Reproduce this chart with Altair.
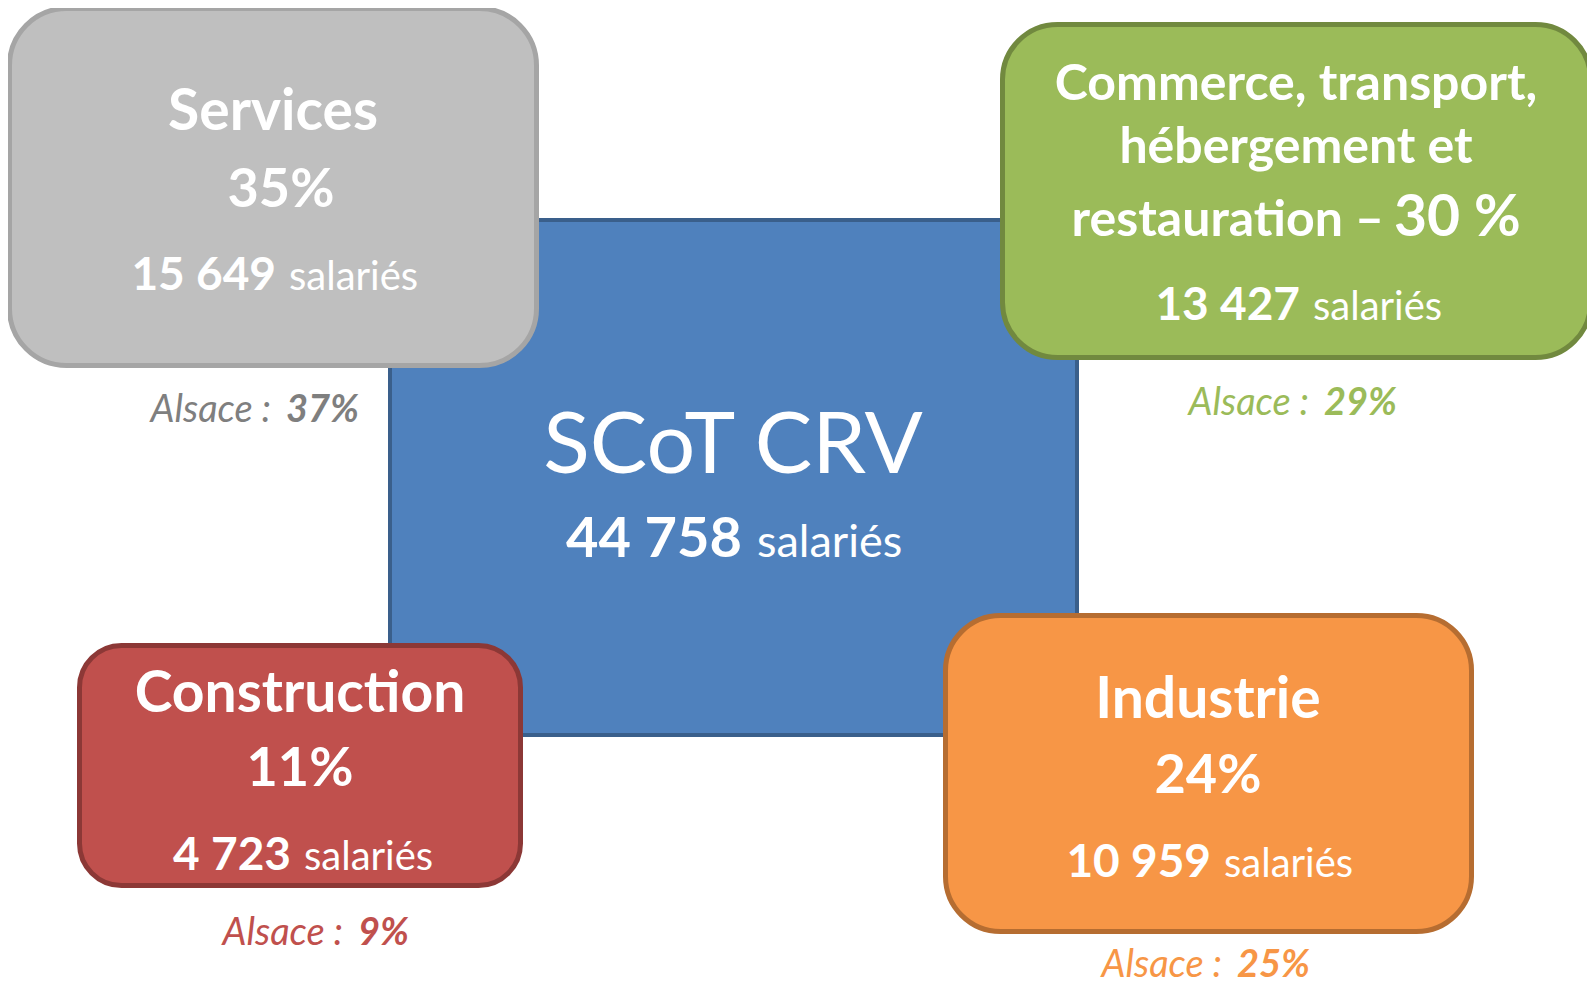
import altair as alt
import pandas as pd

# ---------------- data ----------------
sectors = ["Services", "Commerce, transport, hébergement et restauration", "Construction", "Industrie"]
share_labels = ["35%", "30 %", "11%", "24%"]
employees = ["15 649", "13 427", "4 723", "10 959"]
alsace_share = ["37%", "29%", "9%", "25%"]
total_name = "SCoT CRV"
total_employees = "44 758"
unit_word = "salariés"
alsace_word = "Alsace :"
commerce_lines = ["Commerce, transport,", "hébergement et", "restauration –"]

# ---------------- layout (page pixels) ----------------
fills = ["#BFBFBF", "#9BBB59", "#C0504D", "#F79646"]
strokes = ["#A5A5A5", "#71893F", "#8C3836", "#B66D31"]
alsace_colors = ["#7F7F7F", "#9BBB59", "#C0504D", "#F79646"]
box_x = [9.5, 1002.5, 79.5, 945.5]
box_x2 = [536.5, 1590.5, 520.5, 1471.5]
box_y = [8.5, 24.5, 645.5, 615.5]
box_y2 = [365.5, 357.5, 885.5, 931.5]
box_radius = [57, 55, 42, 55]

title_cx = [273, 1296, 300, 1208]
title_y = [130, None, 712, 718]
share_y = [207, None, 786, 793]
emp_split = [282, 1306, 297, 1217]
emp_y = [290, 320, 870, 877]
alsace_split = [278, 1316, 350, 1229]
alsace_y = [422, 415, 945, 977]

WHITE = "#FFFFFF"
FONT = "Lato"

rows = []


def add(text, x, y, align, size, weight="normal", style="normal", color=WHITE):
    rows.append(dict(text=text, x=x, y=y, align=align, size=size,
                     weight=weight, style=style, color=color))


for i, name in enumerate(sectors):
    cx = title_cx[i]
    if i == 1:
        add(commerce_lines[0], cx, 100, "center", 50, "bold")
        add(commerce_lines[1], cx, 163, "center", 50, "bold")
        add(commerce_lines[2], 1384, 236, "right", 50, "bold")
        add(share_labels[i], 1394, 236, "left", 57, "bold")
    else:
        add(name, cx, title_y[i], "center", 57, "bold")
        add(share_labels[i], cx + (8 if i == 0 else 0), share_y[i], "center", 54, "bold")
    add(employees[i], emp_split[i] - 6, emp_y[i], "right", 46, "bold")
    add(unit_word, emp_split[i] + 7, emp_y[i], "left", 40, "normal")
    add(alsace_word, alsace_split[i] - 7, alsace_y[i], "right", 38, "normal", "italic", alsace_colors[i])
    add(alsace_share[i], alsace_split[i] + 8, alsace_y[i], "left", 38, "bold", "italic", alsace_colors[i])

# centre box texts
add(total_name, 733, 473, "center", 86, "normal")
add(total_employees, 742, 557, "right", 56, "bold")
add(unit_word, 757, 557, "left", 45, "normal")

texts = pd.DataFrame(rows)

W, H = 1579, 977
xs = alt.Scale(domain=[8, 8 + W], nice=False, zero=False)
ys = alt.Scale(domain=[8, 8 + H], nice=False, zero=False, reverse=True)

layers = []

# centre rectangle
centre = pd.DataFrame([dict(x=390, x2=1077, y=220, y2=735)])
layers.append(
    alt.Chart(centre).mark_rect(fill="#4F81BD", stroke="#3A5F8B", strokeWidth=4).encode(
        x=alt.X("x:Q", scale=xs, axis=None), x2="x2:Q",
        y=alt.Y("y:Q", scale=ys, axis=None), y2="y2:Q")
)

for i in range(len(sectors)):
    d = pd.DataFrame([dict(x=box_x[i], x2=box_x2[i], y=box_y[i], y2=box_y2[i])])
    layers.append(
        alt.Chart(d).mark_rect(fill=fills[i], stroke=strokes[i], strokeWidth=5,
                               cornerRadius=box_radius[i]).encode(
            x=alt.X("x:Q", scale=xs, axis=None), x2="x2:Q",
            y=alt.Y("y:Q", scale=ys, axis=None), y2="y2:Q")
    )

for (align, weight, style), g in texts.groupby(["align", "weight", "style"]):
    layers.append(
        alt.Chart(g).mark_text(align=align, baseline="alphabetic", font=FONT,
                               fontWeight=weight, fontStyle=style).encode(
            x=alt.X("x:Q", scale=xs, axis=None),
            y=alt.Y("y:Q", scale=ys, axis=None),
            text="text:N",
            size=alt.Size("size:Q", scale=None, legend=None),
            color=alt.Color("color:N", scale=None, legend=None),
        )
    )

chart = alt.layer(*layers).properties(
    width=W, height=H, padding=0, autosize="none", background="#FFFFFF"
).configure_view(stroke=None)

chart.save("out.html", embed_options={"renderer": "svg", "actions": False})
